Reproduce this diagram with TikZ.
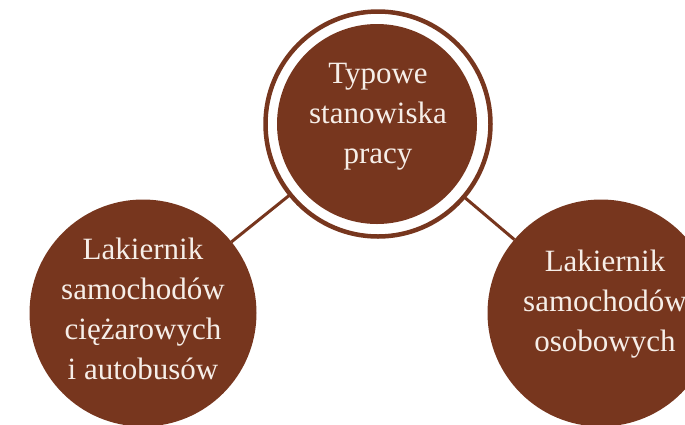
\documentclass[tikz,border=0pt]{standalone}
\usepackage{fontspec}
\setmainfont{Liberation Serif}
\definecolor{brn}{RGB}{119,54,30}
\definecolor{txt}{RGB}{246,238,232}
\begin{document}
\begin{tikzpicture}[x=1pt,y=-1pt,
  disc/.style={circle,fill=brn,inner sep=0pt,outer sep=0pt},
  ringc/.style={circle,draw=brn,line width=4.5pt,inner sep=0pt,outer sep=0pt},
  lbl/.style={text=txt,align=center,font=\fontsize{31}{40}\selectfont,inner sep=0pt},
  conn/.style={draw=brn,line width=3pt}]
\useasboundingbox (0,0) rectangle (685,424);
\node[ringc,minimum size=225pt] (ring) at (378,124) {};
\node[disc,minimum size=200pt] (C) at (377,124) {};
\node[disc,minimum size=227pt] (L) at (143,313) {};
\node[disc,minimum size=227pt] (R) at (601,313) {};
\draw[conn] (L) -- (ring);
\draw[conn] (R) -- (ring);
\node[lbl] (tc) at (378,117) {Typowe\\stanowiska\\pracy};
\node[lbl] (tl) at (143,309) {Lakiernik\\samochodów\\ciężarowych\\i autobusów};
\node[lbl] (tr) at (605,304) {Lakiernik\\samochodów\\osobowych};
\end{tikzpicture}
\end{document}
